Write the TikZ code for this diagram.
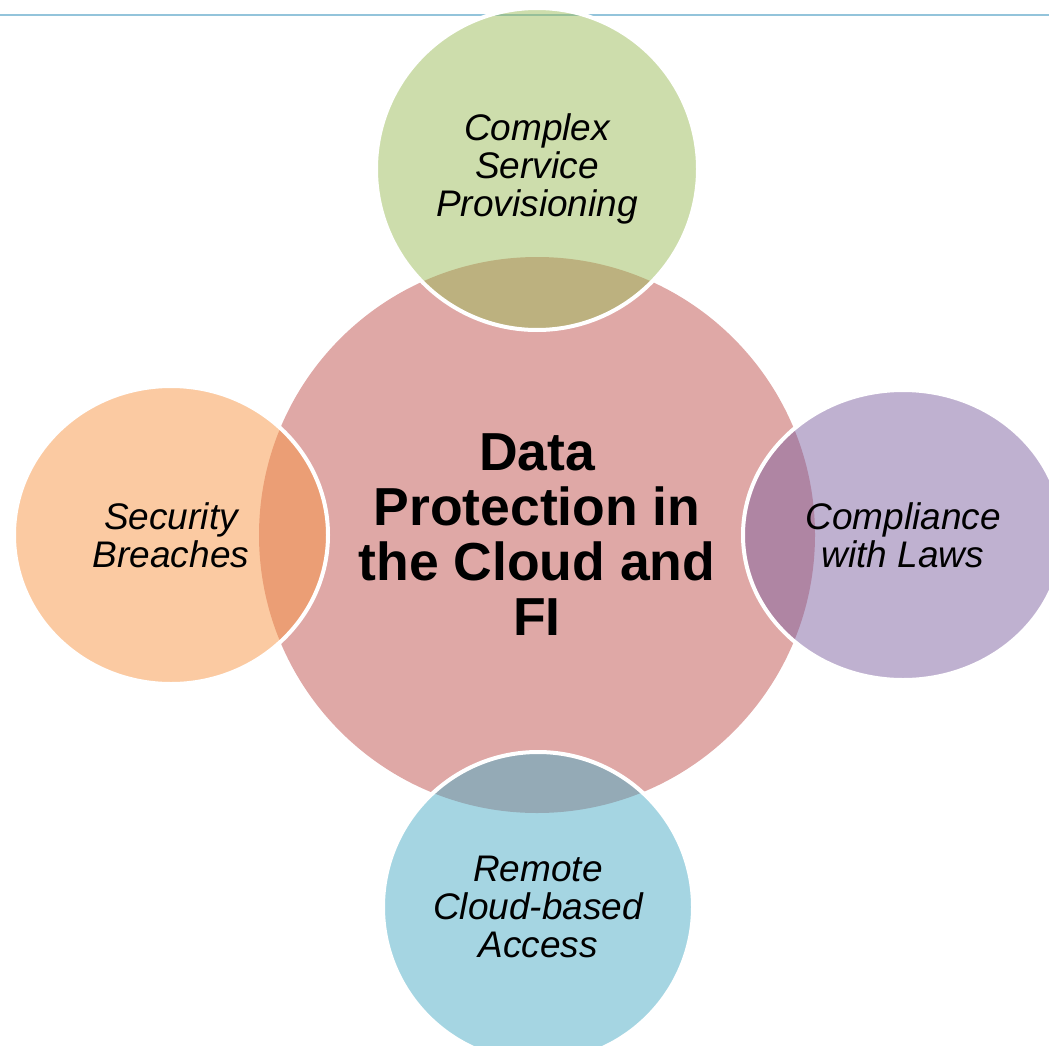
\documentclass[tikz,border=0pt]{standalone}
\usepackage{fontspec}
\setmainfont{Liberation Sans}
\usetikzlibrary{shapes.geometric}

\definecolor{accRed}{HTML}{C0504D}
\definecolor{accGreen}{HTML}{9BBB59}
\definecolor{accOrange}{HTML}{F79646}
\definecolor{accPurple}{HTML}{8064A2}
\definecolor{accAqua}{HTML}{4BACC6}
\definecolor{ruleBlue}{HTML}{93C4DB}

\begin{document}
\begin{tikzpicture}[x=1pt, y=-1pt,
		hub/.style={circle, fill=accRed!50, inner sep=0pt, align=center,
			font=\bfseries\fontsize{53.5}{55}\selectfont},
		petal/.style={fill opacity=0.5, text opacity=1, draw=white, line width=4pt,
			inner sep=0pt, align=center, font=\itshape\fontsize{37}{38}\selectfont}]
		
		% --- Canvas (pixel coordinates of the slide, y down) ---
		\useasboundingbox (0,0) rectangle (1049,1046);
		\clip (0,0) rectangle (1049,1046);
		
		% Rule across the top of the slide
		\coordinate (ruleW) at (0,15);
		\coordinate (ruleE) at (1049,15);
		\draw[ruleBlue, line width=2.5pt] (ruleW) -- (ruleE);
		
		% --- Central topic ---
		\node[hub, minimum size=556pt] (core) at (537,535)
		{Data\\Protection in\\the Cloud and\\FI};
		
		% --- Surrounding issues (translucent, white outline) ---
		\node[petal, circle, fill=accGreen, minimum size=322pt] (service) at (537,169)
		{Complex\\Service\\Provisioning};
		\node[petal, ellipse, fill=accOrange, minimum width=314pt, minimum height=298pt] (breach) at (171,535)
		{Security\\Breaches};
		\node[petal, ellipse, fill=accPurple, minimum width=320pt, minimum height=290pt] (laws) at (903,535)
		{Compliance\\with Laws};
		\node[petal, circle, fill=accAqua, minimum size=310pt] (access) at (538,907)
		{Remote\\Cloud-based\\Access};
		
	\end{tikzpicture}
\end{document}
